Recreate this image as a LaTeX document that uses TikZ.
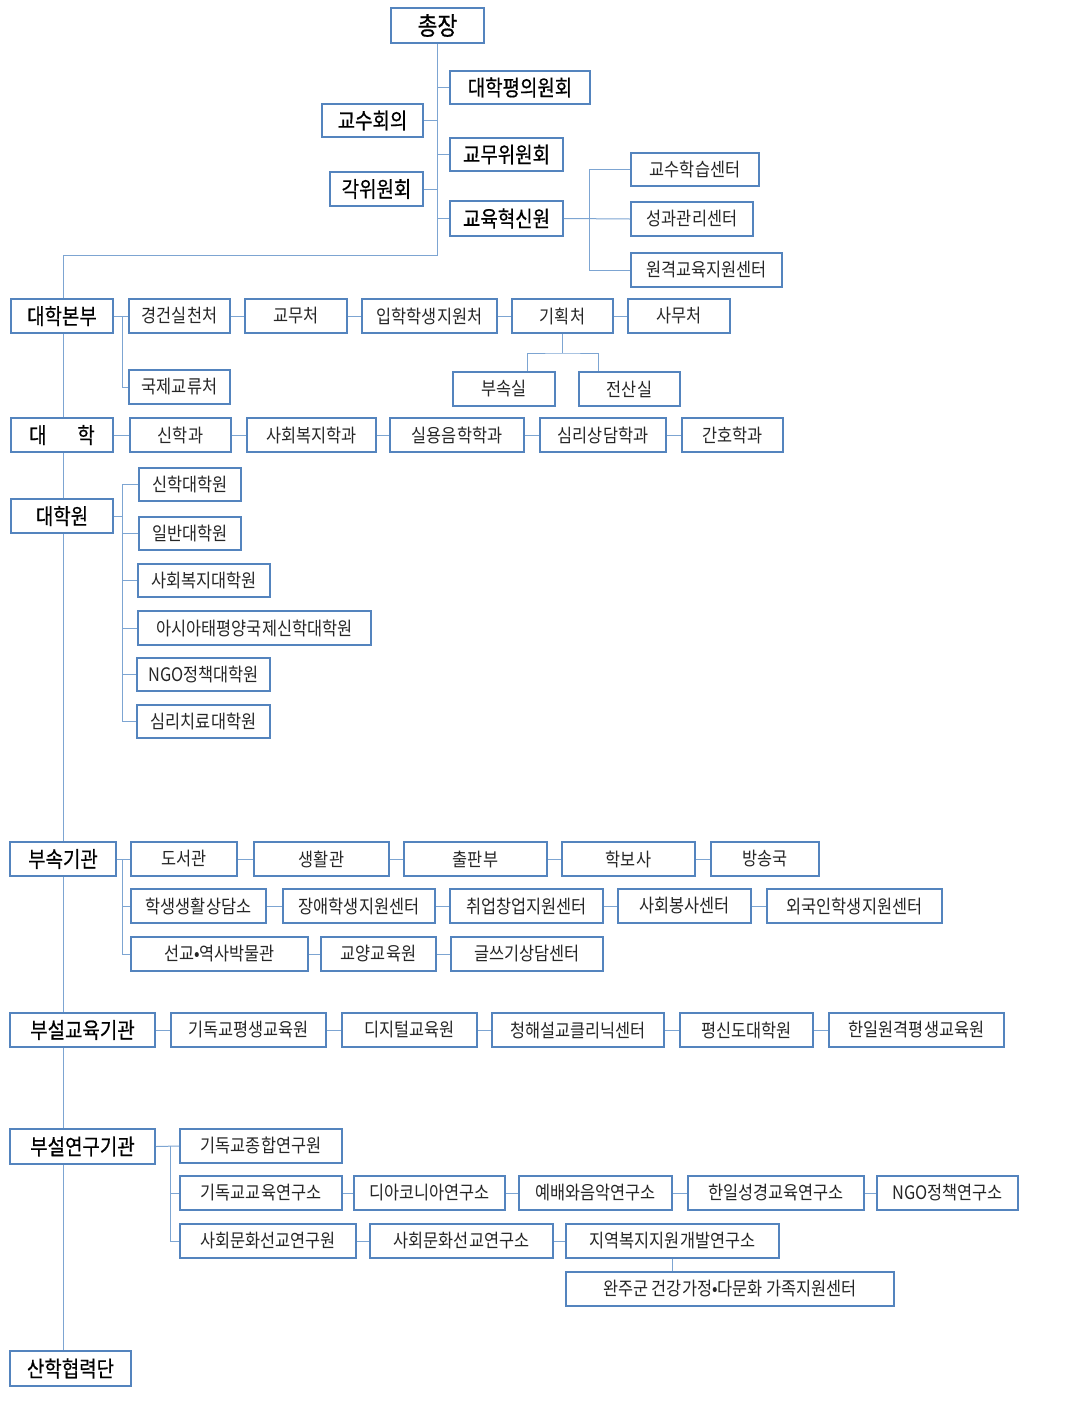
\documentclass[tikz,border=0pt]{standalone}
\usepackage{fontspec}
\setmainfont{Noto Sans CJK KR}
\newfontfamily\krf[FakeStretch=0.88]{Noto Sans CJK KR}
\newfontfamily\krh[FakeStretch=0.86,FakeBold=0.6]{Noto Sans CJK KR}
\definecolor{boxc}{RGB}{84,132,190}
\definecolor{connc}{RGB}{125,165,210}
\newcommand{\ob}[7][]{\node[box,#1,minimum width={#4-#3},minimum height={#6-#5}] (#2) at ({(#3+#4)/2},{(#5+#6)/2}) {#7};}
\tikzset{
  box/.style={draw=boxc, line width=1.6pt, fill=white, inner sep=0pt, text=black!85,
    font=\krf\fontsize{18.6pt}{19pt}\selectfont},
  headbox/.style={text=black, font=\krh\fontsize{22pt}{23pt}\selectfont},
  midbox/.style={text=black, font=\krh\fontsize{22pt}{23pt}\selectfont},
  bigbox/.style={text=black, font=\krh\fontsize{25pt}{26pt}\selectfont},
  conn/.style={draw=connc, line width=1pt},
}
\begin{document}
\begin{tikzpicture}[x=1pt,y=-1pt]
\useasboundingbox (0,0) rectangle (1088,1425);
\coordinate (trunk) at (63,0);
% top part
\ob[bigbox]{chong}{391}{484}{8}{43}{총장}
\ob[midbox]{pyeong}{450}{590}{71}{104}{대학평의원회}
\ob[midbox]{gyosuhoe}{322}{423}{104}{137}{교수회의}
\ob[midbox]{gyomuwi}{450}{563}{138}{171}{교무위원회}
\ob[midbox]{gakwi}{330}{423}{172}{206}{각위원회}
\ob[midbox]{hyeoksin}{450}{563}{201}{236}{교육혁신원}
\ob{gyosuhak}{631}{759}{153}{186}{교수학습센터}
\ob{seonggwa}{631}{753}{202}{236}{성과관리센터}
\ob{wongyeok}{631}{782}{253}{287}{원격교육지원센터}
% 대학본부
\ob[headbox]{bonbu}{11}{113}{299}{333}{대학본부}
\ob{gyeonggeon}{129}{230}{299}{333}{경건실천처}
\ob{gyomu}{245}{347}{299}{333}{교무처}
\ob{iphak}{362}{497}{299}{333}{입학학생지원처}
\ob{gihoek}{512}{613}{299}{333}{기획처}
\ob{samu}{628}{730}{299}{333}{사무처}
\ob{gukje}{129}{230}{370}{404}{국제교류처}
\ob{busok}{453}{555}{372}{406}{부속실}
\ob{jeonsan}{579}{680}{372}{406}{전산실}
% 대학
\ob[headbox]{daehak}{11}{113}{418}{452}{대\hspace{1.4em}학}
\ob{sinhakgwa}{130}{231}{418}{452}{신학과}
\ob{sahoegwa}{247}{376}{418}{452}{사회복지학과}
\ob{silyong}{390}{524}{418}{452}{실용음학학과}
\ob{simrisang}{540}{666}{418}{452}{심리상담학과}
\ob{ganho}{682}{783}{418}{452}{간호학과}
% 대학원
\ob[headbox]{grad}{11}{113}{499}{533}{대학원}
\ob{ga}{139}{241}{468}{501}{신학대학원}
\ob{gb}{139}{241}{517}{550}{일반대학원}
\ob{gc}{138}{270}{564}{597}{사회복지대학원}
\ob{gd}{138}{371}{611}{645}{아시아태평양국제신학대학원}
\ob{ge}{137}{270}{658}{691}{NGO정책대학원}
\ob{gf}{137}{270}{705}{738}{심리치료대학원}
% 부속기관
\ob[headbox]{bu}{10}{116}{842}{876}{부속기관}
\ob{ba}{131}{237}{842}{876}{도서관}
\ob{bb}{254}{389}{842}{876}{생활관}
\ob{bc}{404}{547}{842}{876}{출판부}
\ob{bd}{562}{695}{842}{876}{학보사}
\ob{be}{711}{819}{842}{876}{방송국}
\ob{bf}{131}{266}{889}{923}{학생생활상담소}
\ob{bg}{283}{435}{889}{923}{장애학생지원센터}
\ob{bh}{450}{603}{889}{923}{취업창업지원센터}
\ob{bi}{618}{751}{889}{923}{사회봉사센터}
\ob{bj}{767}{942}{889}{923}{외국인학생지원센터}
\ob{bk}{131}{308}{937}{971}{선교•역사박물관}
\ob{bl}{321}{436}{937}{971}{교양교육원}
\ob{bm}{451}{603}{937}{971}{글쓰기상담센터}
% 부설교육기관
\ob[headbox]{edu}{10}{155}{1013}{1047}{부설교육기관}
\ob{ea}{171}{326}{1013}{1047}{기독교평생교육원}
\ob{eb}{342}{477}{1013}{1047}{디지털교육원}
\ob{ec}{492}{664}{1013}{1047}{청해설교클리닉센터}
\ob{ed}{680}{813}{1013}{1047}{평신도대학원}
\ob{ee}{829}{1004}{1013}{1047}{한일원격평생교육원}
% 부설연구기관
\ob[headbox]{res}{10}{155}{1129}{1164}{부설연구기관}
\ob{ra}{180}{342}{1129}{1163}{기독교종합연구원}
\ob{rb}{180}{342}{1176}{1210}{기독교교육연구소}
\ob{rc}{354}{505}{1176}{1210}{디아코니아연구소}
\ob{rd}{519}{672}{1176}{1210}{예배와음악연구소}
\ob{re}{688}{864}{1176}{1210}{한일성경교육연구소}
\ob{rf}{877}{1018}{1176}{1210}{NGO정책연구소}
\ob{rg}{180}{356}{1224}{1258}{사회문화선교연구원}
\ob{rh}{370}{553}{1224}{1258}{사회문화선교연구소}
\ob{ri}{566}{779}{1224}{1258}{지역복지지원개발연구소}
\ob{wanju}{566}{894}{1272}{1306}{완주군 건강가정•다문화 가족지원센터}
% 산학협력단
\ob[headbox]{sanhak}{10}{131}{1351}{1386}{산학협력단}

% ---- connectors ----
\draw[conn] (chong.south) -- (chong.south |- 0,255) -| (bonbu.north -| trunk);
\draw[conn] (pyeong.west) -- (pyeong.west -| chong.south);
\draw[conn] (gyomuwi.west) -- (gyomuwi.west -| chong.south);
\draw[conn] (hyeoksin.west) -- (hyeoksin.west -| chong.south);
\draw[conn] (gyosuhoe.east) -- (gyosuhoe.east -| chong.south);
\draw[conn] (gakwi.east) -- (gakwi.east -| chong.south);
\draw[conn] (hyeoksin.east) -- (seonggwa.west);
\draw[conn] (gyosuhak.west) -- ++(-41,0) |- (wongyeok.west);
% 대학본부 row
\draw[conn] (bonbu.east) -- (gyeonggeon.west);
\draw[conn] (gyeonggeon.east) -- (gyomu.west);
\draw[conn] (gyomu.east) -- (iphak.west);
\draw[conn] (iphak.east) -- (gihoek.west);
\draw[conn] (gihoek.east) -- (samu.west);
\draw[conn] (bonbu.east -| 122,0) |- (gukje.west);
\draw[conn] (gihoek.south) -- (gihoek.south |- 0,353);
\draw[conn] (busok.north -| 527,0) |- (gihoek.south |- 0,353) -| (jeonsan.north -| 598,0);
% 대학 row
\draw[conn] (daehak.east) -- (sinhakgwa.west);
\draw[conn] (sinhakgwa.east) -- (sahoegwa.west);
\draw[conn] (sahoegwa.east) -- (silyong.west);
\draw[conn] (silyong.east) -- (simrisang.west);
\draw[conn] (simrisang.east) -- (ganho.west);
% 대학원
\draw[conn] (grad.east) -- (grad.east -| 122,0);
\draw[conn] (ga.west) -- (ga.west -| 122,0) |- (gf.west);
\foreach \n in {gb,gc,gd,ge} \draw[conn] (\n.west) -- (\n.west -| 122,0);
% 부속기관
\draw[conn] (bu.east) -- (ba.west);
\draw[conn] (ba.east) -- (bb.west);
\draw[conn] (bb.east) -- (bc.west);
\draw[conn] (bc.east) -- (bd.west);
\draw[conn] (bd.east) -- (be.west);
\draw[conn] (ba.west -| 122,0) |- (bk.west);
\draw[conn] (bf.west) -- (bf.west -| 122,0);
\draw[conn] (bf.east) -- (bg.west);
\draw[conn] (bg.east) -- (bh.west);
\draw[conn] (bh.east) -- (bi.west);
\draw[conn] (bi.east) -- (bj.west);
\draw[conn] (bk.east) -- (bl.west);
\draw[conn] (bl.east) -- (bm.west);
% 부설교육기관
\draw[conn] (edu.east) -- (ea.west);
\draw[conn] (ea.east) -- (eb.west);
\draw[conn] (eb.east) -- (ec.west);
\draw[conn] (ec.east) -- (ed.west);
\draw[conn] (ed.east) -- (ee.west);
% 부설연구기관
\draw[conn] (res.east) -- (ra.west);
\draw[conn] (ra.west -| 170,0) |- (rg.west);
\draw[conn] (rb.west) -- (rb.west -| 170,0);
\draw[conn] (rb.east) -- (rc.west);
\draw[conn] (rc.east) -- (rd.west);
\draw[conn] (rd.east) -- (re.west);
\draw[conn] (re.east) -- (rf.west);
\draw[conn] (rg.east) -- (rh.west);
\draw[conn] (rh.east) -- (ri.west);
\draw[conn] (ri.south) -- (ri.south |- wanju.north);
% trunk
\draw[conn] (bonbu.south -| trunk) -- (daehak.north -| trunk);
\draw[conn] (daehak.south -| trunk) -- (grad.north -| trunk);
\draw[conn] (grad.south -| trunk) -- (bu.north -| trunk);
\draw[conn] (bu.south -| trunk) -- (edu.north -| trunk);
\draw[conn] (edu.south -| trunk) -- (res.north -| trunk);
\draw[conn] (res.south -| trunk) -- (sanhak.north -| trunk);
\end{tikzpicture}
\end{document}
